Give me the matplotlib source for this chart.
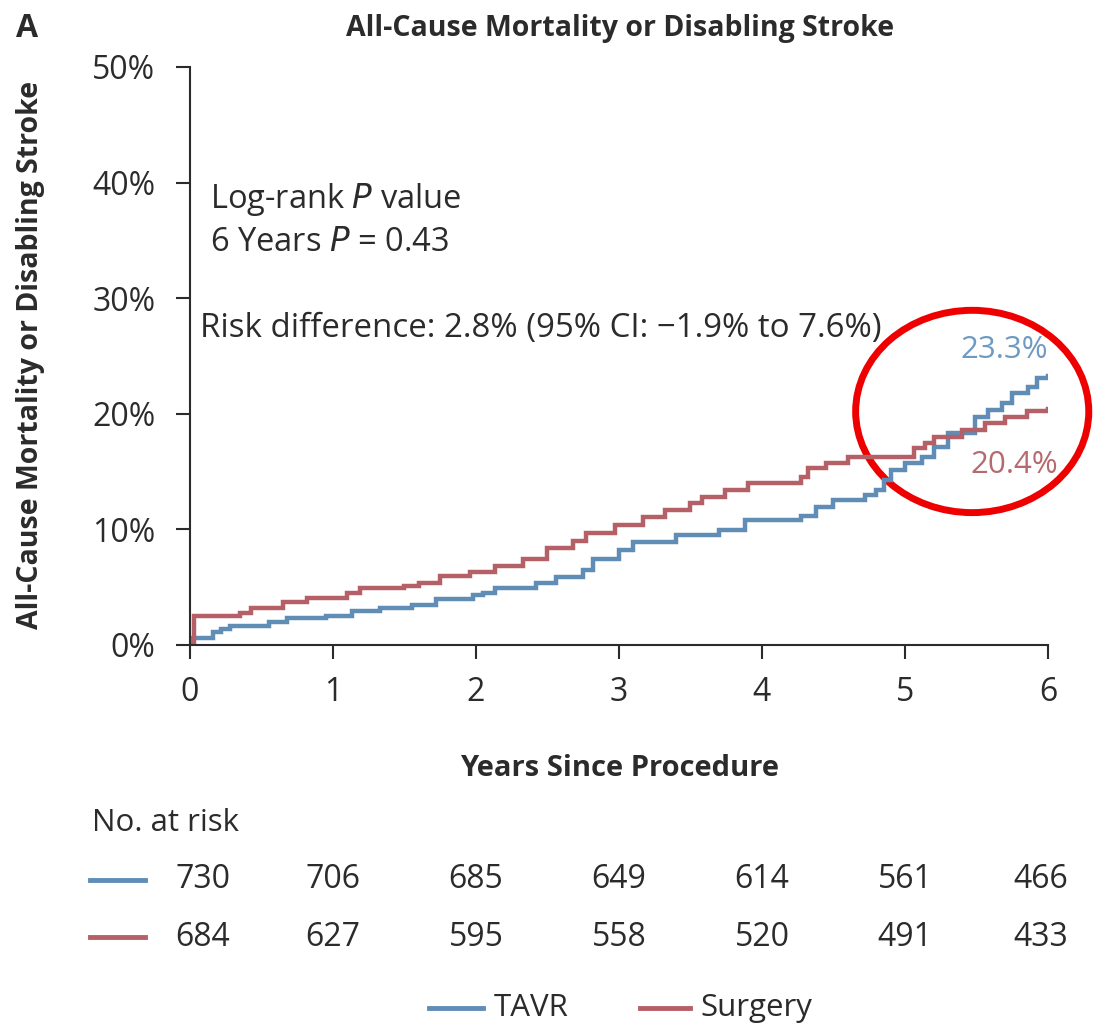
import numpy as np
import matplotlib.pyplot as plt
from matplotlib.patches import Ellipse
from matplotlib.transforms import blended_transform_factory

# Kaplan-Meier style cumulative incidence (%)
tavr_t = [0, 0.02, 0.16, 0.22, 0.28, 0.55, 0.68, 0.95, 1.13, 1.33, 1.55, 1.72, 1.98,
          2.05, 2.13, 2.42, 2.56, 2.75, 2.82, 3.0, 3.1, 3.4, 3.7, 3.88, 4.27, 4.38,
          4.5, 4.72, 4.8, 4.85, 4.9, 5.0, 5.12, 5.2, 5.3, 5.49, 5.58, 5.68, 5.75,
          5.86, 5.92, 6.0]
tavr_y = [0, 0.6, 1.1, 1.4, 1.6, 2.0, 2.3, 2.5, 2.9, 3.2, 3.5, 4.0, 4.3,
          4.5, 4.9, 5.4, 5.9, 6.5, 7.4, 8.2, 8.9, 9.5, 9.95, 10.8, 11.2, 11.9,
          12.5, 13.0, 13.4, 14.3, 15.1, 15.7, 16.3, 17.1, 18.3, 19.7, 20.3, 20.9, 21.8,
          22.3, 23.1, 23.3]

surg_t = [0, 0.03, 0.35, 0.43, 0.65, 0.82, 1.1, 1.19, 1.5, 1.6, 1.75, 1.96, 2.13,
          2.33, 2.5, 2.68, 2.77, 2.97, 3.17, 3.32, 3.5, 3.58, 3.74, 3.9, 4.27, 4.32,
          4.45, 4.6, 5.06, 5.14, 5.2, 5.4, 5.56, 5.7, 5.85, 6.0]
surg_y = [0, 2.5, 2.8, 3.2, 3.7, 4.1, 4.5, 4.9, 5.1, 5.4, 6.0, 6.3, 6.8,
          7.4, 8.4, 9.0, 9.7, 10.4, 11.1, 11.7, 12.3, 12.8, 13.4, 14.0, 14.5, 15.3,
          15.7, 16.3, 17.0, 17.5, 18.0, 18.6, 19.2, 19.7, 20.2, 20.4]

years = [0, 1, 2, 3, 4, 5, 6]
risk_tavr = [730, 706, 685, 649, 614, 561, 466]
risk_surg = [684, 627, 595, 558, 520, 491, 433]

blue = "#5F8DB5"
red = "#B55F66"
txt = "#2b2b2b"
fs = 22.5

plt.rcParams['font.family'] = ['Open Sans', 'DejaVu Sans']
cond = ['Liberation Sans Narrow', 'Open Sans', 'DejaVu Sans']

fig = plt.figure(figsize=(11.13, 10.30), dpi=100)
ax = fig.add_axes([0.1707, 0.3738, 0.7709, 0.5612])

ax.step(tavr_t, tavr_y, where='post', color=blue, lw=3.2, solid_joinstyle='miter')
ax.step(surg_t, surg_y, where='post', color=red, lw=3.2, solid_joinstyle='miter')

ax.set_xlim(0, 6)
ax.set_ylim(0, 50)
ax.set_xticks(years)
ax.set_yticks([0, 10, 20, 30, 40, 50])
ax.set_yticklabels([f"{v}%" for v in [0, 10, 20, 30, 40, 50]])
for s in ['top', 'right']:
    ax.spines[s].set_visible(False)
for s in ['left', 'bottom']:
    ax.spines[s].set_linewidth(1.5)
    ax.spines[s].set_color(txt)
ax.tick_params(axis='both', length=10, width=1.5, color=txt, labelsize=23, labelcolor=txt)
ax.tick_params(axis='y', pad=15)
ax.tick_params(axis='x', pad=12)

# text blocks
ax.text(0.14, 38.5, "Log-rank $\\it{P}$ value", fontsize=23.5, color=txt, va='center')
ax.text(0.14, 34.8, "6 Years $\\it{P}$ = 0.43", fontsize=23.5, color=txt, va='center')
ax.text(0.07, 27.4, "Risk difference: 2.8% (95% CI: \u22121.9% to 7.6%)", fontsize=23.8,
        color=txt, va='center')
ax.text(6.0, 25.5, f"{tavr_y[-1]}%", color="#6E9AC2", fontsize=fs, ha='right', va='center')
ax.text(6.07, 15.6, f"{surg_y[-1]}%", color="#B66A70", fontsize=fs, ha='right', va='center')

ell = Ellipse((5.47, 20.2), 1.63, 17.5, fill=False, edgecolor='#ee0000', lw=5, clip_on=False)
ax.add_patch(ell)

fig.text(0.014, 0.972, "A", fontsize=23, fontweight='bold', family=cond, color=txt, va='center')
fig.text(0.557, 0.972, "All-Cause Mortality or Disabling Stroke", fontsize=20.5, fontweight='bold',
         family=cond, color=txt, ha='center', va='center')
fig.text(0.027, 0.655, "All-Cause Mortality or Disabling Stroke", fontsize=20.5, fontweight='bold',
         family=cond, color=txt, rotation=90, ha='center', va='center')
fig.text(0.557, 0.254, "Years Since Procedure", fontsize=21, fontweight='bold',
         family=cond, color=txt, ha='center', va='center')

# number at risk table
fig.text(0.083, 0.201, "No. at risk", fontsize=fs, color=txt, va='center')
tr = blended_transform_factory(ax.transData, fig.transFigure)
for yy, vals, col in [(0.146, risk_tavr, blue), (0.090, risk_surg, red)]:
    fig.add_artist(plt.Line2D([0.081, 0.130], [yy, yy], color=col, lw=3.5))
    for x, v in zip(years, vals):
        off = 0.09 if x == 0 else (-0.05 if x == 6 else 0)
        fig.text(x + off, yy, str(v), transform=tr, fontsize=23, color=txt,
                 ha='center', va='center')

# legend at the bottom
ly = 0.021
fig.add_artist(plt.Line2D([0.385, 0.434], [ly, ly], color=blue, lw=3.5))
fig.text(0.444, ly, "TAVR", fontsize=fs, color=txt, va='center')
fig.add_artist(plt.Line2D([0.575, 0.620], [ly, ly], color=red, lw=3.5))
fig.text(0.629, ly, "Surgery", fontsize=fs, color=txt, va='center')

fig.savefig("out.png", dpi=100)
